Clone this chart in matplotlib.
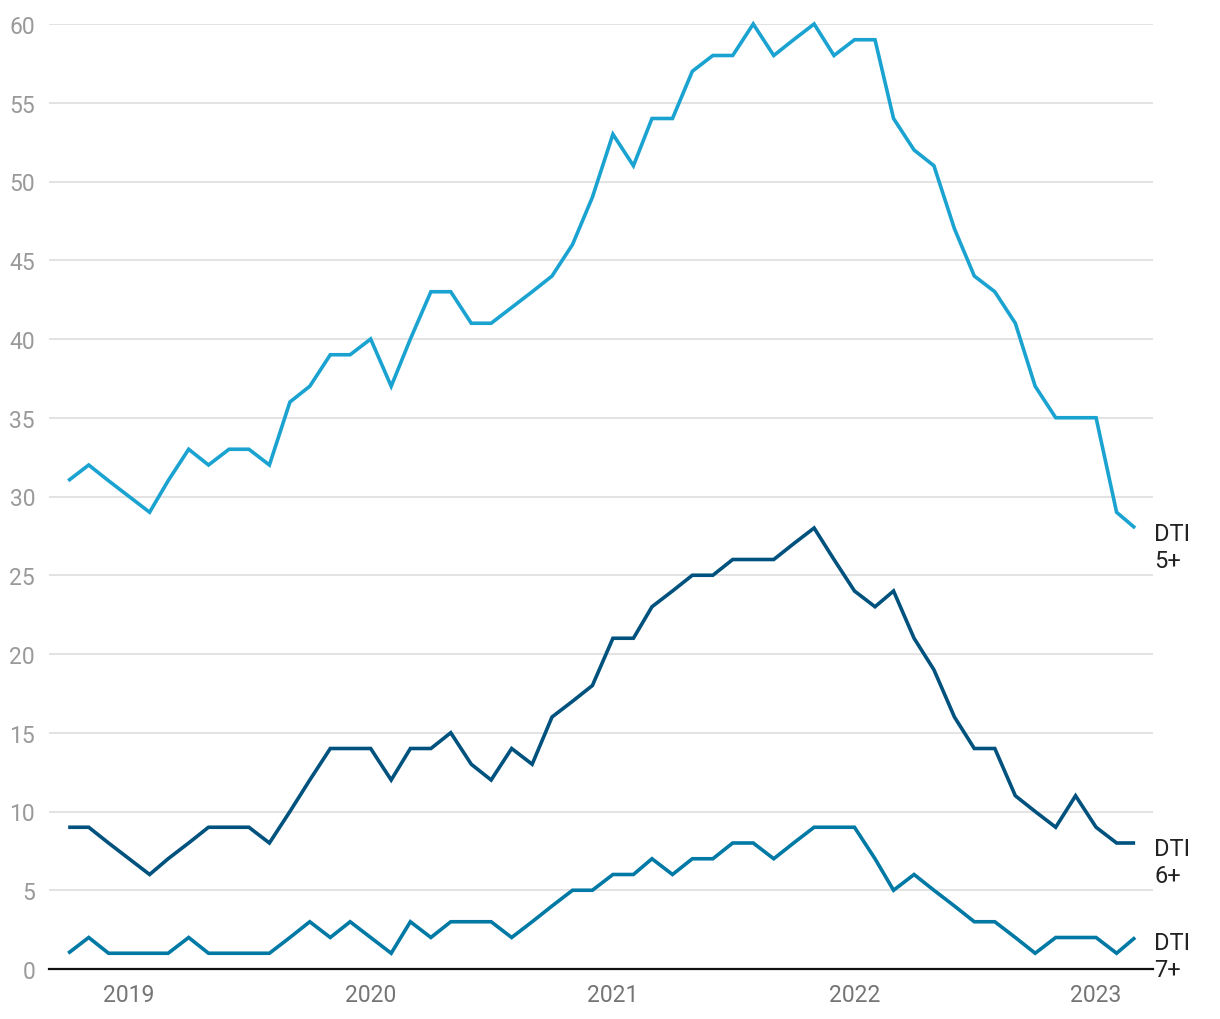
import numpy as np
import pandas as pd
import matplotlib
matplotlib.use("Agg")
import matplotlib.pyplot as plt
import matplotlib.dates as mdates

# --- DATA (monthly, Oct 2018 - Mar 2023) ---
months = pd.date_range("2018-10-01", "2023-03-01", freq="MS")

dti5 = [31, 32, 31, 30, 29, 31, 33, 32, 33, 33, 32, 36, 37, 39, 39, 40, 37, 40,
        43, 43, 41, 41, 42, 43, 44, 46, 49, 53, 51, 54, 54, 57, 58, 58, 60, 58,
        59, 60, 58, 59, 59, 54, 52, 51, 47, 44, 43, 41, 37, 35, 35, 35, 29, 28]
dti6 = [9, 9, 8, 7, 6, 7, 8, 9, 9, 9, 8, 10, 12, 14, 14, 14, 12, 14,
        14, 15, 13, 12, 14, 13, 16, 17, 18, 21, 21, 23, 24, 25, 25, 26, 26, 26,
        27, 28, 26, 24, 23, 24, 21, 19, 16, 14, 14, 11, 10, 9, 11, 9, 8, 8]
dti7 = [1, 2, 1, 1, 1, 1, 2, 1, 1, 1, 1, 2, 3, 2, 3, 2, 1, 3,
        2, 3, 3, 3, 2, 3, 4, 5, 5, 6, 6, 7, 6, 7, 7, 8, 8, 7,
        8, 9, 9, 9, 7, 5, 6, 5, 4, 3, 3, 2, 1, 2, 2, 2, 1, 2]

series_labels = ["DTI\n5+", "DTI\n6+", "DTI\n7+"]
series_colors = ["#1aa3d1", "#00527e", "#0079a5"]
year_ticks = ["2019", "2020", "2021", "2022", "2023"]
y_ticks = [0, 5, 10, 15, 20, 25, 30, 35, 40, 45, 50, 55, 60]

plt.rcParams['font.family'] = ['Roboto', 'DejaVu Sans']

fig = plt.figure(figsize=(12.2, 10.2), dpi=100)
ax = fig.add_axes([49 / 1220, 1 - 970 / 1020, (1153 - 49) / 1220, (970 - 25) / 1020])

for vals, lab, col in zip([dti5, dti6, dti7], series_labels, series_colors):
    ax.plot(months, vals, color=col, lw=2.6, solid_joinstyle='miter',
            solid_capstyle='butt', clip_on=False, zorder=3)
    ax.annotate(lab, xy=(months[-1], vals[-1]), xytext=(19, 6),
                textcoords='offset pixels', va='top', ha='left',
                fontsize=17, color='#222222', linespacing=1.2,
                annotation_clip=False)

ax.set_ylim(0, 60)
ax.set_xlim(pd.Timestamp("2018-09-02"), pd.Timestamp("2023-03-28"))

ax.set_yticks(y_ticks)
ax.grid(axis='y', color='#e3e3e3', lw=1.4)
ax.set_axisbelow(True)

ax.set_xticks([pd.Timestamp(f"{y}-01-01") for y in year_ticks])
ax.set_xticklabels(year_ticks)

ax.tick_params(axis='y', length=0, pad=10, labelsize=16.5, labelcolor='#9a9a9a')
ax.tick_params(axis='x', length=0, pad=10, labelsize=16.5, labelcolor='#757575')

for s in ['top', 'right', 'left']:
    ax.spines[s].set_visible(False)
ax.spines['bottom'].set_color('#111111')
ax.spines['bottom'].set_linewidth(1.6)
ax.spines['bottom'].set_zorder(4)

fig.savefig("out.png", dpi=100, facecolor='white')
